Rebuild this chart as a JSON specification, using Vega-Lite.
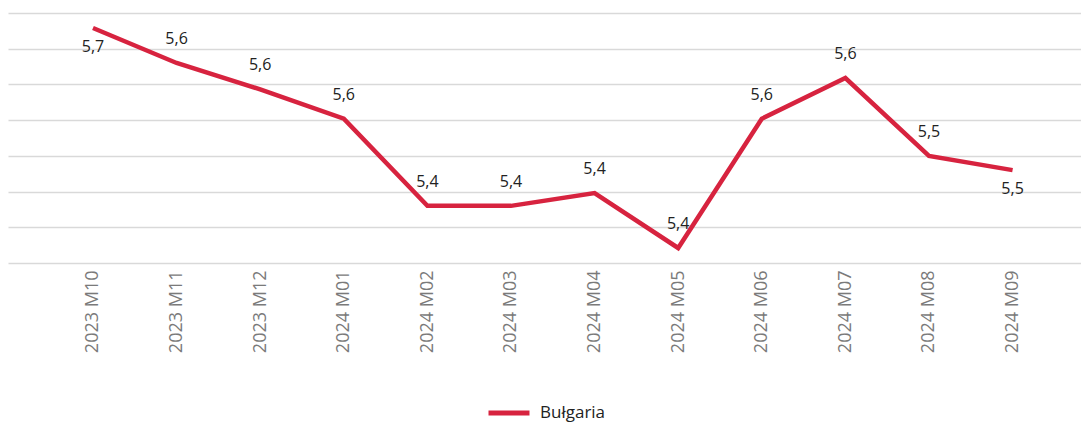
{
  "$schema": "https://vega.github.io/schema/vega-lite/v6.json",
  "width": 1073,
  "height": 250,
  "autosize": {"type": "none"},
  "padding": {"left": 8, "top": 13, "right": 0, "bottom": 159},
  "background": "white",
  "config": {
    "view": {"stroke": null},
    "font": "Open Sans",
    "locale": {"number": {"decimal": ",", "thousands": " ", "grouping": [3], "currency": ["", " zł"]}}
  },
  "data": {
    "values": [
      {"month": "2023 M10", "series": "Bułgaria", "value": 5.679},
      {"month": "2023 M11", "series": "Bułgaria", "value": 5.630},
      {"month": "2023 M12", "series": "Bułgaria", "value": 5.593},
      {"month": "2024 M01", "series": "Bułgaria", "value": 5.552},
      {"month": "2024 M02", "series": "Bułgaria", "value": 5.430},
      {"month": "2024 M03", "series": "Bułgaria", "value": 5.430},
      {"month": "2024 M04", "series": "Bułgaria", "value": 5.448},
      {"month": "2024 M05", "series": "Bułgaria", "value": 5.371},
      {"month": "2024 M06", "series": "Bułgaria", "value": 5.552},
      {"month": "2024 M07", "series": "Bułgaria", "value": 5.609},
      {"month": "2024 M08", "series": "Bułgaria", "value": 5.500},
      {"month": "2024 M09", "series": "Bułgaria", "value": 5.480}
    ]
  },
  "encoding": {
    "x": {
      "field": "month",
      "type": "ordinal",
      "sort": null,
      "scale": {"type": "point", "padding": 0.9175, "align": 0.554},
      "axis": {
        "title": null,
        "labelAngle": -90,
        "labelPadding": 7,
        "labelFontSize": 18,
        "labelColor": "#7a7a7a",
        "ticks": false,
        "domain": false,
        "grid": false
      }
    },
    "y": {
      "field": "value",
      "type": "quantitative",
      "scale": {"domain": [5.35, 5.70], "zero": false, "nice": false},
      "axis": {
        "title": null,
        "labels": false,
        "ticks": false,
        "domain": false,
        "grid": true,
        "gridColor": "#d9d9d9",
        "gridWidth": 1.5,
        "values": [5.35, 5.4, 5.45, 5.5, 5.55, 5.6, 5.65, 5.7]
      }
    }
  },
  "layer": [
    {
      "mark": {"type": "line", "strokeWidth": 4.5, "strokeJoin": "miter", "strokeCap": "butt"},
      "encoding": {
        "color": {
          "field": "series",
          "type": "nominal",
          "scale": {"range": ["#d7233f"]},
          "legend": {
            "title": null,
            "orient": "none",
            "legendX": 478,
            "legendY": 377,
            "direction": "horizontal",
            "symbolType": "stroke",
            "symbolSize": 1680,
            "symbolStrokeWidth": 5,
            "labelFontSize": 17,
            "labelColor": "#222222",
            "labelOffset": 8
          }
        }
      }
    },
    {
      "transform": [{"filter": "datum.month !== '2023 M10' && datum.month !== '2024 M09'"}],
      "mark": {"type": "text", "dy": -24, "fontSize": 16, "color": "#222222"},
      "encoding": {"text": {"field": "value", "type": "quantitative", "format": ".1f"}}
    },
    {
      "transform": [{"filter": "datum.month === '2023 M10' || datum.month === '2024 M09'"}],
      "mark": {"type": "text", "dy": 19, "fontSize": 16, "color": "#222222"},
      "encoding": {"text": {"field": "value", "type": "quantitative", "format": ".1f"}}
    }
  ]
}
